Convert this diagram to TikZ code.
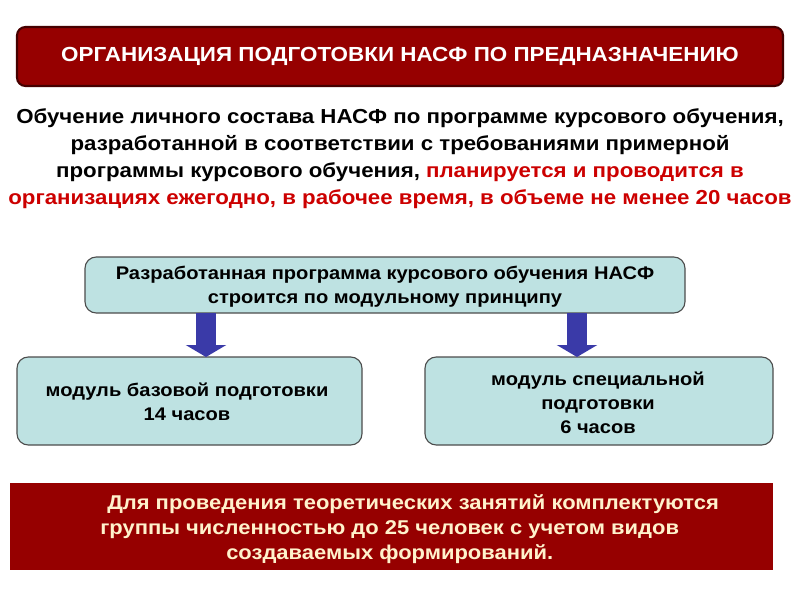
\documentclass[tikz,border=0pt]{standalone}
\usepackage{fontspec}
\setmainfont[FakeStretch=1.1]{Liberation Sans}
\usetikzlibrary{arrows.meta}
\definecolor{darkred}{RGB}{150,0,0}
\definecolor{borderred}{RGB}{70,0,0}
\definecolor{boxcyan}{RGB}{190,226,226}
\definecolor{brightred}{RGB}{204,0,0}
\definecolor{arrowblue}{RGB}{58,58,168}
\definecolor{cream}{RGB}{255,242,204}

\begin{document}
\begin{tikzpicture}[x=0.25mm, y=-0.25mm,
        titlebox/.style = {draw=borderred, line width=1.5pt, fill=darkred, rounded corners=6pt},
        modbox/.style = {draw=black!70, line width=0.8pt, fill=boxcyan, rounded corners=8pt},
        modtext/.style = {align=center, font=\bfseries\fontsize{13}{17.2}\selectfont},
        blockarrow/.style = {draw=arrowblue, line width=5mm, -{Triangle[length=3mm, width=10mm]}}]
            \useasboundingbox (0,0) rectangle (800,600);
            \path[titlebox] (17,27) rectangle (783,86);
            \node (title) at (400,56) {\bfseries\fontsize{14.5}{16}\selectfont\color{white}ОРГАНИЗАЦИЯ ПОДГОТОВКИ НАСФ ПО ПРЕДНАЗНАЧЕНИЮ};

            \node (intro) at (400,159) [align=center, font=\bfseries\fontsize{14.4}{19.2}\selectfont] {Обучение личного состава НАСФ по программе курсового обучения,\\
                разработанной в соответствии с требованиями примерной\\
                программы курсового обучения, {\color{brightred}планируется и проводится в}\\
                {\color{brightred}организациях ежегодно, в рабочее время, в объеме не менее 20 часов}};

            \path[modbox] (85,257) rectangle (685,313);
            \node (prog) at (385,287) [modtext] {Разработанная программа курсового обучения НАСФ\\строится по модульному принципу};
            \path[modbox] (17,357) rectangle (362,445);
            \node (base) at (187,402) [modtext] {модуль базовой подготовки\\14 часов};
            \path[modbox] (425,357) rectangle (773,445);
            \node (spec) at (598,403) [modtext] {модуль специальной\\подготовки\\ 6 часов};

            \coordinate (a1) at (206,313);
            \coordinate (a2) at (577,313);
            \coordinate (b1) at (206,357);
            \coordinate (b2) at (577,357);
            \draw[blockarrow] (a1) -- (b1);
            \draw[blockarrow] (a2) -- (b2);

            \fill[darkred] (10,483) rectangle (773,570);
            \node (groups) at (100,529) [anchor=west, inner xsep=0pt, align=left, font=\bfseries\fontsize{14.2}{18}\selectfont, text=cream] {\hspace{1.75mm}Для проведения теоретических занятий комплектуются\\
                группы численностью до 25 человек с учетом видов\\
                \hspace{31.5mm}создаваемых формирований.};
        \end{tikzpicture}
\end{document}
